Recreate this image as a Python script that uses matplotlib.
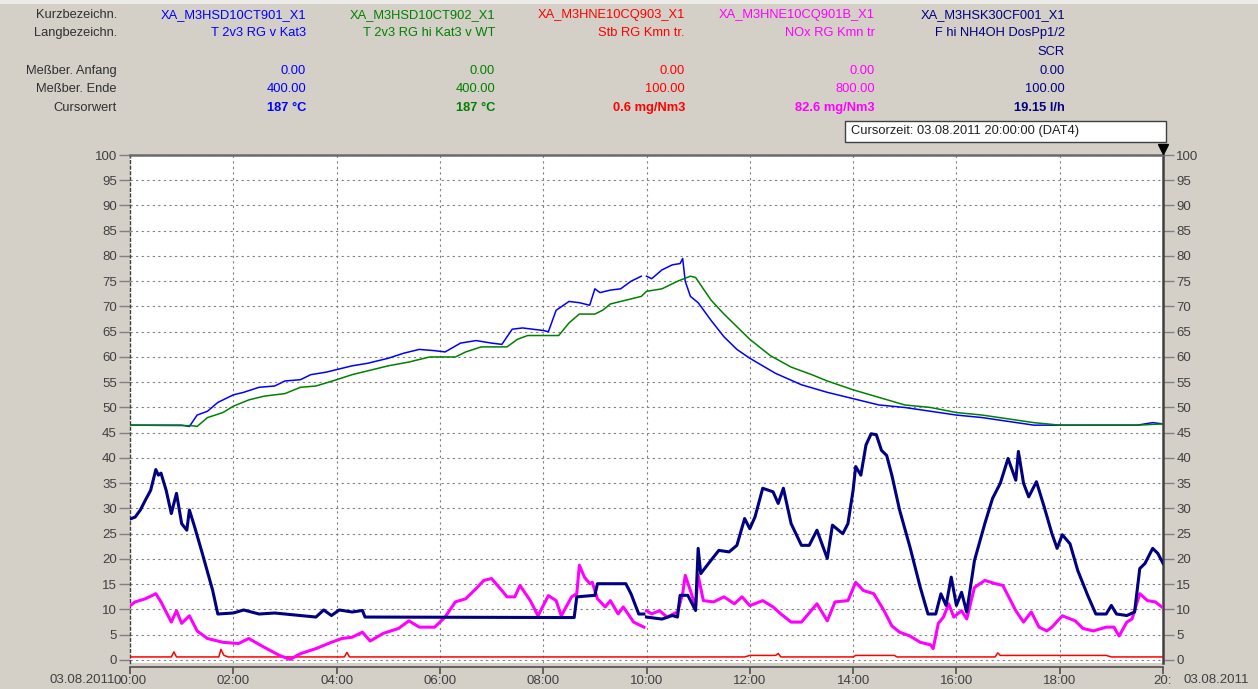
import numpy as np
import matplotlib
matplotlib.use("Agg")
import matplotlib.pyplot as plt
from matplotlib.patches import Rectangle

# ---------------------------------------------------------------- data
short_names = ["XA_M3HSD10CT901_X1", "XA_M3HSD10CT902_X1", "XA_M3HNE10CQ903_X1",
               "XA_M3HNE10CQ901B_X1", "XA_M3HSK30CF001_X1"]
long_names = ["T 2v3 RG v Kat3", "T 2v3 RG hi Kat3 v WT", "Stb RG Kmn tr.",
              "NOx RG Kmn tr", "F hi NH4OH DosPp1/2\nSCR"]
range_start = [0.0, 0.0, 0.0, 0.0, 0.0]
range_end = [400.0, 400.0, 100.0, 800.0, 100.0]
units = ["°C", "°C", "mg/Nm3", "mg/Nm3", "l/h"]
cursor_fmt = ["{:.0f}", "{:.0f}", "{:.1f}", "{:.1f}", "{:.2f}"]
colors = ["#0000FF", "#008000", "#FF0000", "#FF00FF", "#000080"]

# T 2v3 RG v Kat3 [°C]
t_blue = [0, 1.0, 1.15, 1.3, 1.5, 1.7, 2.0, 2.2, 2.5, 2.8, 3.0, 3.3, 3.5, 3.8, 4.0,
          4.3, 4.6, 5.0, 5.3, 5.6, 5.9, 6.1, 6.4, 6.7, 7.0, 7.2, 7.4, 7.6, 8.0, 8.1,
          8.25, 8.5, 8.7, 8.9, 9.0, 9.1, 9.3, 9.5, 9.7, 9.9, 9.95, 10.0, 10.1, 10.3,
          10.5, 10.65, 10.7, 10.75, 10.85, 11.0, 11.25, 11.5, 11.75, 12.0, 12.25,
          12.5, 13.0, 13.5, 14.0, 14.5, 15.0, 15.5, 16.0, 16.5, 17.0, 17.5, 18.0,
          19.0, 19.5, 19.8, 20.0]
v_blue = [186, 186, 185, 194, 197, 204, 210, 212, 216, 217, 221, 222, 226, 228, 230,
          233, 235, 239, 243, 246, 245, 244, 251, 253, 251, 250, 262, 263, 261, 260,
          277, 284, 283, 281, 294, 291, 293, 294, 300, 304, np.nan, 304, 302, 309,
          313, 314, 318, 300, 288, 283, 269, 256, 246, 239, 233,
          227, 218, 212, 207, 202, 200, 197, 194, 192, 189, 186, 186,
          186, 186, 188, 187]

# T 2v3 RG hi Kat3 v WT [°C]
t_green = [0, 1.2, 1.3, 1.5, 1.8, 2.0, 2.3, 2.6, 3.0, 3.3, 3.6, 4.0, 4.3, 4.7, 5.0,
           5.4, 5.8, 6.3, 6.5, 6.8, 7.3, 7.5, 7.7, 8.0, 8.3, 8.5, 8.7, 9.0, 9.15, 9.3,
           9.6, 9.9, 10.0, 10.3, 10.6, 10.85, 10.95, 11.0, 11.25, 11.5, 11.8, 12.0,
           12.4, 12.8, 13.2, 13.5, 14.0, 14.5, 15.0, 15.5, 16.0, 16.5, 17.0, 17.5,
           18.0, 19.0, 19.5, 20.0]
v_green = [186, 185.6, 185, 192, 196, 201, 206, 209, 211, 216, 217, 222, 226, 230, 233,
           236, 240, 240, 244, 248, 248, 254, 257, 257, 257, 267, 274, 274, 277, 282,
           285, 288, 292, 294, 300, 304, 303, 300, 285, 274, 262, 254,
           241, 232, 226, 221, 214, 208, 202, 200, 196, 194, 191, 188,
           186, 186, 186, 187]

# Stb RG Kmn tr. [mg/Nm3]
t_red = [0, 0.8, 0.85, 0.9, 1.72, 1.76, 1.82, 1.9, 4.15, 4.2, 4.25, 11.9, 12.0, 12.5,
         12.55, 12.6, 14.0, 14.05, 14.8, 14.85, 16.75, 16.8, 16.85, 18.9, 19.0, 20.0]
v_red = [0.6, 0.6, 1.6, 0.6, 0.6, 2.1, 0.9, 0.6, 0.6, 1.5, 0.6, 0.6, 0.9, 0.9,
         1.3, 0.6, 0.6, 0.9, 0.9, 0.6, 0.6, 1.4, 0.9, 0.9, 0.6, 0.6]

# NOx RG Kmn tr [mg/Nm3]
t_mag = [0.0, 0.1, 0.3, 0.5, 0.6, 0.8, 0.9, 1.0, 1.15, 1.3, 1.5, 1.8, 2.1, 2.3, 2.6,
         2.9, 3.1, 3.3, 3.6, 3.9, 4.1, 4.3, 4.5, 4.65, 4.9, 5.2, 5.4, 5.6, 5.9, 6.1,
         6.3, 6.5, 6.7, 6.85, 7.0, 7.2, 7.3, 7.45, 7.55, 7.75, 7.9, 8.1, 8.25, 8.35,
         8.55, 8.65, 8.7, 8.8, 8.9, 8.95, 9.05, 9.2, 9.3, 9.45, 9.55, 9.75, 9.95,
         9.97, 10.0, 10.1, 10.25, 10.4, 10.6, 10.7, 10.75, 10.85, 10.95, 11.0, 11.1,
         11.3, 11.5, 11.7, 11.85, 12.0, 12.25, 12.45, 12.6, 12.8, 13.0, 13.3, 13.5,
         13.65, 13.9, 14.05, 14.2, 14.4, 14.6, 14.75, 14.9, 15.1, 15.3, 15.5, 15.55,
         15.65, 15.75, 15.85, 15.95, 16.1, 16.2, 16.35, 16.55, 16.75, 16.9, 17.05,
         17.15, 17.3, 17.45, 17.6, 17.75, 17.85, 18.05, 18.3, 18.45, 18.65, 18.9,
         19.05, 19.15, 19.3, 19.4, 19.55, 19.7, 19.85, 20.0]
v_mag = [86, 92, 97, 105, 92, 60, 78, 58, 70, 46, 34, 28, 26, 34, 20,
         7, 1, 10, 18, 28, 34, 36, 44, 30, 42, 50, 62, 52, 52, 68,
         92, 97, 113, 126, 129, 110, 100, 100, 118, 94, 70, 102, 94, 70,
         100, 105, 150, 131, 121, 123, 97, 84, 94, 73, 84, 60, 52,
         np.nan, 78, 73, 78, 68, 76, 105, 134, 110, 84, 134, 94,
         92, 100, 89, 100, 86, 94, 84, 73, 60, 60, 89, 62,
         92, 94, 123, 110, 105, 78, 54, 44, 38, 28, 24, 18,
         58, 68, 89, 68, 78, 65, 115, 126, 121, 118, 94,
         78, 60, 76, 52, 46, 52, 70, 62, 50, 46, 52,
         52, 38, 60, 65, 105, 94, 92, 82.6]

# F hi NH4OH DosPp1/2 SCR [l/h]
t_navy = [0, 0.1, 0.2, 0.3, 0.4, 0.5, 0.55, 0.6, 0.7, 0.8, 0.9, 1.0, 1.1, 1.15, 1.25,
          1.4, 1.6, 1.7, 2.0, 2.2, 2.5, 2.8, 3.3, 3.6, 3.75, 3.9, 4.05, 4.3, 4.5,
          4.55, 8.6, 8.65, 9.0, 9.05, 9.6, 9.7, 9.85, 9.95, 9.97, 10.0, 10.3, 10.5,
          10.6, 10.65, 10.8, 10.95, 11.0, 11.05, 11.2, 11.4, 11.6, 11.75, 11.9, 12.0,
          12.1, 12.25, 12.45, 12.55, 12.65, 12.8, 13.0, 13.15, 13.3, 13.5, 13.6, 13.8,
          13.9, 14.0, 14.05, 14.15, 14.25, 14.35, 14.45, 14.55, 14.65, 14.75, 14.9,
          15.1, 15.3, 15.45, 15.6, 15.7, 15.8, 15.9, 16.0, 16.1, 16.2, 16.35, 16.55,
          16.7, 16.85, 17.0, 17.15, 17.2, 17.3, 17.4, 17.55, 17.7, 17.85, 17.95,
          18.05, 18.2, 18.35, 18.55, 18.7, 18.9, 19.0, 19.1, 19.3, 19.45, 19.55,
          19.65, 19.8, 19.9, 20.0]
v_navy = [27.9, 28.3, 29.7, 31.7, 33.6, 37.7, 36.6, 37.0, 33.6, 29.0, 33.0, 27.0, 25.7,
          29.7, 26.4, 21.1, 13.8, 9.1, 9.3, 9.9, 9.1, 9.3, 8.8, 8.5, 9.9, 8.8, 9.9,
          9.5, 9.8, 8.5, 8.4, 12.5, 12.8, 15.1, 15.1, 13.1, 9.1, 9.1, np.nan, 8.5,
          8.1, 8.8, 8.5, 12.8, 12.8, 9.8, 22.1, 17.1, 19.1, 21.7, 21.4, 22.7, 28.0,
          26.0, 28.3, 34.0, 33.3, 31.0, 34.0, 27.0, 22.7, 22.7, 25.7, 20.1, 26.7,
          25.0, 27.0, 33.6, 38.3, 36.6, 42.6, 44.8, 44.6, 41.5, 40.5, 36.6, 29.7,
          22.4, 14.4, 9.1, 9.1, 13.1, 10.8, 16.4, 10.8, 13.4, 9.5, 19.7, 27.0,
          32.0, 35.0, 39.9, 35.6, 41.3, 35.0, 32.3, 35.3, 30.3, 25.0, 22.1,
          24.8, 23.0, 17.7, 12.6, 9.1, 9.1, 10.8, 9.1, 8.8, 9.5, 18.1,
          19.1, 22.1, 21.1, 19.15]

series_t = [t_blue, t_green, t_red, t_mag, t_navy]
series_v = [v_blue, v_green, v_red, v_mag, v_navy]
line_widths = [1.1, 1.1, 1.1, 2.2, 2.2]

tick_hours = [0, 2, 4, 6, 8, 10, 12, 14, 16, 18, 20]
tick_labels = ["00:00", "02:00", "04:00", "06:00", "08:00", "10:00",
               "12:00", "14:00", "16:00", "18:00", "20:"]
y_ticks = list(range(0, 101, 5))
date_label = "03.08.2011"
cursor_time = "Cursorzeit: 03.08.2011 20:00:00 (DAT4)"
row_labels = ["Kurzbezeichn.", "Langbezeichn.", "Meßber. Anfang", "Meßber. Ende",
              "Cursorwert"]

# ---------------------------------------------------------------- layout
W, H = 1258, 689
BG = "#D4D0C8"
TXT = "#303030"
FONT = "Liberation Sans"
plt.rcParams["font.family"] = [FONT, "DejaVu Sans"]

fig = plt.figure(figsize=(W / 100, H / 100), dpi=100, facecolor=BG)


def fx(px):
    return px / W


def fy(py):
    return 1 - py / H


def ftext(x, y, s, **kw):
    kw.setdefault("fontsize", 9.3)
    kw.setdefault("va", "center")
    fig.text(fx(x), fy(y), s, **kw)


# thin light strip along the top of the window
fig.patches.append(Rectangle((0, fy(4)), 1, 4 / H, transform=fig.transFigure,
                             facecolor="#ECEAE6", edgecolor="none"))

# ---------------------------------------------------------------- header table
row_y = {"Kurzbezeichn.": 15, "Langbezeichn.": 33, "Meßber. Anfang": 71,
         "Meßber. Ende": 89, "Cursorwert": 108}
for lab in row_labels:
    ftext(117, row_y[lab], lab, ha="right", color=TXT)

col_right = [306, 495, 685, 875, 1065]
for i in range(5):
    c = colors[i]
    xr = col_right[i]
    ftext(xr, row_y["Kurzbezeichn."], short_names[i], ha="right", color=c)
    for k, part in enumerate(long_names[i].split("\n")):
        ftext(xr, row_y["Langbezeichn."] + 19 * k, part, ha="right", color=c)
    ftext(xr, row_y["Meßber. Anfang"], f"{range_start[i]:.2f}", ha="right", color=c)
    ftext(xr, row_y["Meßber. Ende"], f"{range_end[i]:.2f}", ha="right", color=c)
    cur = cursor_fmt[i].format(series_v[i][-1]) + " " + units[i]
    ftext(xr, row_y["Cursorwert"], cur, ha="right", color=c, fontweight="bold")

# cursor time box
fig.patches.append(Rectangle((fx(845), fy(142)), fx(1166) - fx(845), (142 - 121) / H,
                             transform=fig.transFigure, facecolor="white",
                             edgecolor="#404040", linewidth=1.0))
ftext(851, 131, cursor_time, ha="left", color="#202020")

# ---------------------------------------------------------------- plot area
ax_left, ax_right, ax_top, ax_bot = 130, 1163, 155, 663
ax = fig.add_axes([fx(ax_left), fy(ax_bot), fx(ax_right) - fx(ax_left),
                   (ax_bot - ax_top) / H])
ax.set_facecolor("white")
ax.set_xlim(0, 20)
ax.set_ylim(-0.6, 100)

grid_kw = dict(color="#808080", linewidth=0.8, linestyle=(0, (2, 3)), zorder=1)
for yv in y_ticks[1:]:
    ax.axhline(yv, **grid_kw)
for xv in tick_hours[1:-1]:
    ax.axvline(xv, **grid_kw)
ax.axhline(0, **grid_kw)

for i in range(5):
    t = np.asarray(series_t[i], dtype=float)
    v = np.asarray(series_v[i], dtype=float)
    pct = 100.0 * (v - range_start[i]) / (range_end[i] - range_start[i])
    ax.plot(t, pct, color=colors[i], linewidth=line_widths[i], zorder=3 + i,
            solid_joinstyle="round")

# spines
ax.spines["left"].set_color("#404040")
ax.spines["left"].set_linestyle((0, (2, 2)))
ax.spines["left"].set_linewidth(1.0)
ax.spines["right"].set_color("#404040")
ax.spines["right"].set_linewidth(1.8)
ax.spines["top"].set_color("#6A6A6A")
ax.spines["top"].set_linewidth(1.8)
ax.spines["bottom"].set_position(("outward", 3))
ax.spines["bottom"].set_color("#505050")
ax.spines["bottom"].set_linewidth(1.2)

ax.set_yticks(y_ticks)
ax.set_yticklabels([str(v) for v in y_ticks])
ax.tick_params(axis="y", which="both", left=True, right=True, labelleft=True,
               labelright=True, length=8, width=1.0, color="#808080",
               labelcolor="#404040", labelsize=9.5, pad=1.5, direction="out")
ax.set_xticks(tick_hours)
ax.set_xticklabels(tick_labels)
ax.tick_params(axis="x", length=5, width=1.2, color="#505050",
               labelcolor="#404040", labelsize=9.5, pad=0.5, direction="out")

# cursor marker at the right edge
ax.plot([20], [101.2], marker="v", color="black", markersize=7, clip_on=False,
        zorder=10)

# dates at both ends of the time axis
ftext(115, 680, date_label, ha="right", color="#404040", fontsize=9.5)
ftext(1184, 680, date_label, ha="left", color="#404040", fontsize=9.5)

fig.savefig("out.png", dpi=100, facecolor=BG)
